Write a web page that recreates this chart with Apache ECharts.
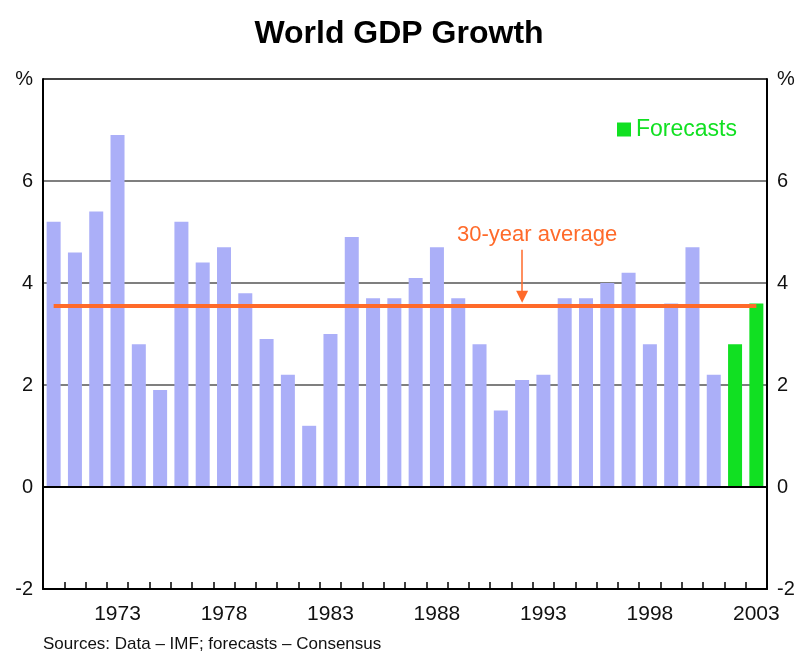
<!DOCTYPE html>
<html>
<head>
<meta charset="utf-8">
<script src="https://cdn.jsdelivr.net/npm/echarts@6/dist/echarts.min.js"></script>
<style>
html,body{margin:0;padding:0;background:#fff;}
#chart{width:798px;height:652px;}
</style>
</head>
<body>
<div id="chart"></div>
<script>
var years = ['1970','1971','1972','1973','1974','1975','1976','1977','1978','1979','1980','1981','1982','1983','1984','1985','1986','1987','1988','1989','1990','1991','1992','1993','1994','1995','1996','1997','1998','1999','2000','2001','2002','2003'];
var actualGrowth = [5.2,4.6,5.4,6.9,2.8,1.9,5.2,4.4,4.7,3.8,2.9,2.2,1.2,3.0,4.9,3.7,3.7,4.1,4.7,3.7,2.8,1.5,2.1,2.2,3.7,3.7,4.0,4.2,2.8,3.6,4.7,2.2,null,null];
var forecastGrowth = [null,null,null,null,null,null,null,null,null,null,null,null,null,null,null,null,null,null,null,null,null,null,null,null,null,null,null,null,null,null,null,null,2.8,3.6];
var averageValue = 3.55;
var averageLine = years.map(function(){ return averageValue; });
var yTicks = ['-2','0','2','4','6','%'];
var arrowYear = '1992';
var arrowFrom = 4.65, arrowTo = 3.73;

var FONT = '"Liberation Sans", Arial, sans-serif';
var chart = echarts.init(document.getElementById('chart'), null, {renderer:'canvas'});
function yLabel(v){ var i = Math.round((v + 2) / 2); return yTicks[i]; }
var yAxisBase = {
  type:'value', min:-2, max:8, interval:2,
  axisLine:{show:true, lineStyle:{color:'#000', width:2}},
  axisTick:{show:false},
  axisLabel:{formatter:yLabel, color:'#111', fontSize:20, fontFamily:FONT, margin:10}
};
chart.setOption({
  animation:false,
  backgroundColor:'#fff',
  title:{text:'World GDP Growth', left:'center', top:13, textStyle:{fontFamily:FONT, fontWeight:'bold', fontSize:32, color:'#000'}},
  legend:{data:['Forecasts'], right:56, top:113, icon:'rect', itemWidth:14, itemHeight:14, itemGap:8,
    textStyle:{color:'#11e022', fontSize:23, fontFamily:FONT}},
  grid:{left:43, right:31, top:79, bottom:63, containLabel:false},
  xAxis:{type:'category', data:years, boundaryGap:true,
    axisLine:{show:true, onZero:false, lineStyle:{color:'#000', width:2}},
    axisTick:{show:true, inside:true, length:7, interval:0, lineStyle:{color:'#000', width:1.5}},
    axisLabel:{interval:function(i){ return (i - 3) % 5 === 0; }, color:'#111', fontSize:21, fontFamily:FONT, margin:15},
    splitLine:{show:false}
  },
  yAxis:[
    Object.assign({}, yAxisBase, {position:'left',
      splitLine:{show:true, lineStyle:{color:['#000','#000','#555','#555','#555','#000'], width:1.5}}}),
    Object.assign({}, yAxisBase, {position:'right', splitLine:{show:false}})
  ],
  series:[
    {name:'Actual', type:'bar', data:actualGrowth, barWidth:14, barGap:'-100%', itemStyle:{color:'#abaff8'},
      markLine:{silent:true, symbol:'none', label:{show:false}, lineStyle:{color:'#000', width:2, type:'solid'}, data:[{yAxis:0}]}},
    {name:'Forecasts', type:'bar', data:forecastGrowth, barWidth:14, barGap:'-100%', itemStyle:{color:'#11e022'}},
    {name:'Average', type:'line', data:averageLine, symbol:'none', lineStyle:{color:'#ff6a2a', width:4}, z:5,
      markLine:{silent:true, symbolSize:[12,12],
        lineStyle:{color:'#ff6a2a', width:1.5, type:'solid'},
        label:{show:true, position:'start', formatter:'30-year average', color:'#ff6a2a', fontSize:22, fontFamily:FONT, offset:[15,0], distance:4},
        data:[[{coord:[arrowYear, arrowFrom], symbol:'none'},{coord:[arrowYear, arrowTo], symbol:'triangle'}]]}}
  ],
  graphic:[{type:'text', left:43, top:636, style:{text:'Sources: Data \u2013 IMF; forecasts \u2013 Consensus', fill:'#111', font:'17px ' + FONT}}]
});
</script>
</body>
</html>
